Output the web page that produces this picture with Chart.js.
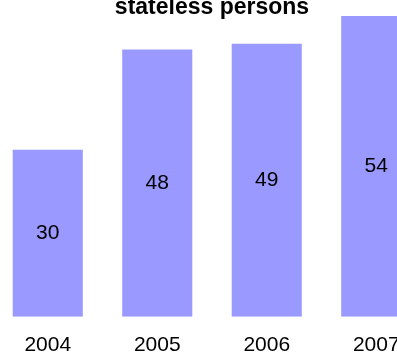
<!DOCTYPE html>
<html>
<head>
<meta charset="utf-8">
<script src="https://cdn.jsdelivr.net/npm/chart.js@4.4.1/dist/chart.umd.min.js"></script>
<style>
  html, body { margin: 0; padding: 0; background: #fff; overflow: hidden; width: 397px; height: 353px; }
  #wrap { position: absolute; left: -7px; top: 0; width: 438px; height: 374px; }
</style>
</head>
<body>
<div id="wrap"><canvas id="chart-bar" width="438" height="374"></canvas></div>
<script>
// data
var years = ["2004", "2005", "2006", "2007"];
var statelessValues = [30, 48, 49, 54];
var chartTitle = "stateless persons";

// label in the middle of every bar
var barLabels = {
    id: "barLabels",
    afterDatasetsDraw: function (chart) {
        var ctx = chart.ctx;
        var meta = chart.getDatasetMeta(0);
        ctx.save();
        ctx.font = "21px 'Liberation Sans', Arial, sans-serif";
        ctx.fillStyle = "#000";
        ctx.textAlign = "center";
        ctx.textBaseline = "middle";
        meta.data.forEach(function (bar, i) {
            ctx.fillText(String(statelessValues[i]), bar.x, (bar.y + bar.base) / 2);
        });
        ctx.restore();
    }
};

var ctx2 = document.getElementById("chart-bar").getContext("2d");
new Chart(ctx2, {
    type: "bar",
    data: {
        labels: years,
        datasets: [{
            label: chartTitle,
            data: statelessValues,
            backgroundColor: "#9999FF",
            borderWidth: 0,
            categoryPercentage: 1,
            barPercentage: 0.64
        }]
    },
    options: {
        responsive: false,
        animation: false,
        layout: { padding: 0 },
        plugins: {
            legend: { display: false },
            tooltip: { enabled: false },
            title: {
                display: true,
                text: chartTitle,
                color: "#000",
                font: { size: 23, weight: "bold", family: "'Liberation Sans', Arial, sans-serif" },
                padding: { top: -6.5, bottom: -5.1 }
            }
        },
        scales: {
            y: {
                display: false,
                min: 0,
                max: 54
            },
            x: {
                grid: { display: false, drawTicks: false },
                border: { display: false },
                ticks: {
                    color: "#000",
                    padding: 16,
                    font: { size: 21, family: "'Liberation Sans', Arial, sans-serif" }
                }
            }
        }
    },
    plugins: [barLabels]
});
</script>
</body>
</html>
